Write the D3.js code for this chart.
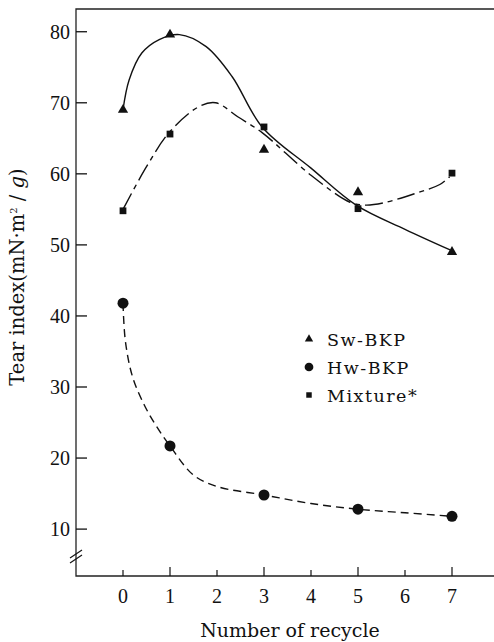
<!DOCTYPE html>
<html>
<head>
<meta charset="utf-8">
<script src="https://cdn.jsdelivr.net/npm/d3@7"></script>
<style>
  body { margin: 0; background: #fff; }
  svg text { font-family: "DejaVu Serif", "Liberation Serif", serif; fill: #111; }
</style>
</head>
<body>
<div id="chart"></div>
<script>
// measured points
var recycle = [0, 1, 3, 5, 7];
var swBkp = [69, 79.6, 63.4, 57.4, 49];
var hwBkp = [41.8, 21.7, 14.8, 12.8, 11.8];
var mixture = [54.8, 65.6, 66.6, 55.1, 60.1];

// fitted curves, knots
var swCurveX = [0, 0.13, 0.4, 0.77, 1.2, 1.77, 2.32, 2.96, 4, 4.96, 6, 6.96];
var swCurveY = [69, 73.2, 77, 78.9, 79.6, 77.9, 73.7, 66.6, 60.8, 55.6, 52.2, 49.3];
var mixCurveX = [0, 0.5, 0.98, 1.6, 1.97, 2.45, 2.96, 4, 4.83, 5.17, 5.53, 6.2, 6.74, 6.95];
var mixCurveY = [55, 61, 65.8, 69.4, 70, 68, 65.8, 59.8, 56, 55.6, 55.9, 57.2, 58.5, 59.6];
var hwCurveX = [0, 0.05, 0.2, 0.45, 0.7, 1, 1.5, 2, 3, 4, 5, 6, 7];
var hwCurveY = [41.8, 36.5, 31.5, 27.5, 24.6, 21.7, 17.6, 16, 14.8, 13.6, 12.8, 12.3, 11.8];

var xTicks = [0, 1, 2, 3, 4, 5, 6, 7];
var yTicks = [10, 20, 30, 40, 50, 60, 70, 80];
var legendNames = ['Sw-BKP', 'Hw-BKP', 'Mixture*'];

var W = 494, H = 642;
var pLeft = 76, pTop = 9, pBottom = 576, pRight = 494;

var x = d3.scaleLinear().domain([-1, 8]).range([pLeft, pLeft + 9 * 47]);
var y = d3.scaleLinear().domain([3.4, 83.2]).range([pBottom, pTop]);

var svg = d3.select('#chart').append('svg')
    .attr('width', W)
    .attr('height', H);

// frame
svg.append('path')
    .attr('d', 'M' + pRight + ',' + pTop + 'H' + pLeft + 'V' + pBottom + 'H' + pRight)
    .attr('fill', 'none')
    .attr('stroke', '#222')
    .attr('stroke-width', 1.3);

// y ticks (inside)
var yAxis = svg.append('g');
yAxis.selectAll('line').data(yTicks).enter().append('line')
    .attr('x1', pLeft).attr('x2', pLeft + 11)
    .attr('y1', function(d) { return y(d); })
    .attr('y2', function(d) { return y(d); })
    .attr('stroke', '#111').attr('stroke-width', 1.3);
yAxis.selectAll('text').data(yTicks).enter().append('text')
    .attr('x', pLeft - 6)
    .attr('y', function(d) { return y(d) + 7; })
    .attr('text-anchor', 'end')
    .style('font-family', '"Liberation Serif", serif')
    .style('font-size', '20px')
    .text(function(d) { return d; });

// axis break
[0, 5].forEach(function(off) {
    svg.append('line')
        .attr('x1', pLeft - 6).attr('y1', 558 + off)
        .attr('x2', pLeft + 6).attr('y2', 550 + off)
        .attr('stroke', '#111').attr('stroke-width', 1.2);
});

// x ticks (inside)
var xAxis = svg.append('g');
xAxis.selectAll('line').data(xTicks).enter().append('line')
    .attr('x1', function(d) { return x(d); })
    .attr('x2', function(d) { return x(d); })
    .attr('y1', pBottom).attr('y2', function(d) { return pBottom - (d % 2 ? 9 : 6); })
    .attr('stroke', '#111').attr('stroke-width', 1.2);
xAxis.selectAll('text').data(xTicks).enter().append('text')
    .attr('x', function(d) { return x(d); })
    .attr('y', 603)
    .attr('text-anchor', 'middle')
    .style('font-family', '"Liberation Serif", serif')
    .style('font-size', '20px')
    .text(function(d) { return d; });

svg.append('text')
    .attr('x', 290).attr('y', 637)
    .attr('text-anchor', 'middle')
    .style('font-size', '19px')
    .text('Number of recycle');

var yLabel = svg.append('text')
    .attr('transform', 'translate(24,277) rotate(-90)')
    .attr('text-anchor', 'middle')
    .style('font-size', '19.5px');
yLabel.append('tspan').text('Tear index(mN·m');
yLabel.append('tspan').attr('dy', -7).style('font-size', '10px').text('2');
yLabel.append('tspan').attr('dy', 7).text(' / ');
yLabel.append('tspan').style('font-style', 'italic').text('g');
yLabel.append('tspan').text(')');

// curves
var line = d3.line()
    .x(function(d) { return x(d[0]); })
    .y(function(d) { return y(d[1]); })
    .curve(d3.curveCatmullRom.alpha(0.5));

function pairs(xs, ys) { return xs.map(function(v, i) { return [v, ys[i]]; }); }

svg.append('path')
    .attr('d', line(pairs(swCurveX, swCurveY)))
    .attr('fill', 'none').attr('stroke', '#111').attr('stroke-width', 1.4);
svg.append('path')
    .attr('d', line(pairs(mixCurveX, mixCurveY)))
    .attr('fill', 'none').attr('stroke', '#111').attr('stroke-width', 1.4)
    .attr('stroke-dasharray', '18,5,5,5');
svg.append('path')
    .attr('d', line(pairs(hwCurveX, hwCurveY)))
    .attr('fill', 'none').attr('stroke', '#111').attr('stroke-width', 1.4)
    .attr('stroke-dasharray', '8,5');

// markers
var tri = d3.symbol().type(d3.symbolTriangle).size(46);
var sq = d3.symbol().type(d3.symbolSquare).size(46);

svg.append('g').selectAll('path').data(recycle).enter().append('path')
    .attr('d', tri)
    .attr('transform', function(d, i) { return 'translate(' + x(d) + ',' + y(swBkp[i]) + ')'; })
    .attr('fill', '#111');
svg.append('g').selectAll('circle').data(recycle).enter().append('circle')
    .attr('cx', function(d) { return x(d); })
    .attr('cy', function(d, i) { return y(hwBkp[i]); })
    .attr('r', 5.5)
    .attr('fill', '#111');
svg.append('g').selectAll('path').data(recycle).enter().append('path')
    .attr('d', sq)
    .attr('transform', function(d, i) { return 'translate(' + x(d) + ',' + y(mixture[i]) + ')'; })
    .attr('fill', '#111');

// legend
var lg = svg.append('g');
var legendMarks = [
    d3.symbol().type(d3.symbolTriangle).size(30)(),
    d3.symbol().type(d3.symbolCircle).size(60)(),
    d3.symbol().type(d3.symbolSquare).size(30)()
];
legendNames.forEach(function(name, i) {
    var yy = 339 + i * 28;
    lg.append('path').attr('d', legendMarks[i])
        .attr('transform', 'translate(309,' + yy + ')')
        .attr('fill', '#111');
    lg.append('text')
        .attr('x', 327).attr('y', yy + 7)
        .style('font-size', '17.5px')
        .style('letter-spacing', '1.5px')
        .text(name);
});
</script>
</body>
</html>
